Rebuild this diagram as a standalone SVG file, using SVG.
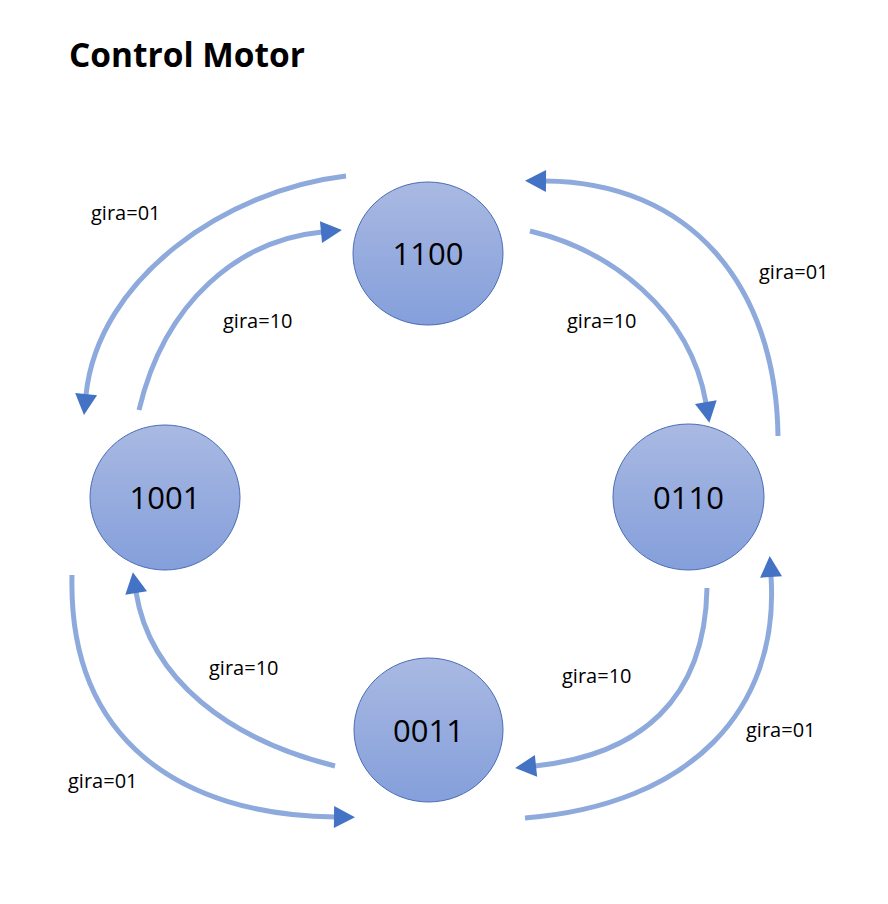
<svg xmlns="http://www.w3.org/2000/svg" width="888" height="904" viewBox="0 0 888 904">
<defs>
<linearGradient id="g" x1="0" y1="0" x2="0" y2="1">
<stop offset="0" stop-color="#a9b9e2"/>
<stop offset="1" stop-color="#849fdb"/>
</linearGradient>
<marker id="ah" markerUnits="userSpaceOnUse" markerWidth="24" markerHeight="24" viewBox="0 0 22 24" refX="1" refY="12" orient="auto">
<path d="M0,1 L21,12 L0,23 z" fill="#4472c4"/>
</marker>
<style>
.node ellipse{fill:url(#g);stroke:#4a6cb5;stroke-width:1}
.node text{font-family:"Open Sans","Liberation Sans",sans-serif;font-size:31px;fill:#000;text-anchor:middle}
.edge{fill:none;stroke:#8eaadc;stroke-width:5;marker-end:url(#ah)}
.lbl{font-family:"Open Sans","Liberation Sans",sans-serif;font-size:20px;fill:#000}
.title{font-family:"Open Sans","Liberation Sans",sans-serif;font-size:34px;font-weight:bold;fill:#000}
</style>
</defs>
<rect width="888" height="904" fill="#fff"/>
<text class="title" x="69" y="67" textLength="236" lengthAdjust="spacingAndGlyphs">Control Motor</text>
<g id="connectors">
<path class="edge" d="M346,176 C226,190 98,278 86,395"/>
<path class="edge" d="M139,410 C165,300 240,240 322,232"/>
<path class="edge" d="M530,231 C610,250 690,310 706,403"/>
<path class="edge" d="M778,436 C776,285 690,182 545,181"/>
<path class="edge" d="M707,588 C705,700 640,755 535,766"/>
<path class="edge" d="M525,818 C690,805 780,710 771,576"/>
<path class="edge" d="M335,766 C230,740 150,680 136,592"/>
<path class="edge" d="M72,575 C68,740 180,815 335,817"/>
</g>
<g id="labels">
<text class="lbl" x="91" y="220">gira=01</text>
<text class="lbl" x="223" y="328">gira=10</text>
<text class="lbl" x="567" y="328">gira=10</text>
<text class="lbl" x="759" y="279">gira=01</text>
<text class="lbl" x="209" y="675">gira=10</text>
<text class="lbl" x="68" y="788">gira=01</text>
<text class="lbl" x="562" y="683">gira=10</text>
<text class="lbl" x="746" y="737">gira=01</text>
</g>
<g id="n1100" class="node"><ellipse cx="428" cy="253.5" rx="75" ry="71.5"/><text x="428" y="265">1100</text></g>
<g id="n1001" class="node"><ellipse cx="165" cy="497.5" rx="75" ry="72.5"/><text x="165" y="509">1001</text></g>
<g id="n0110" class="node"><ellipse cx="688.5" cy="497" rx="75.5" ry="73"/><text x="688.5" y="508.5">0110</text></g>
<g id="n0011" class="node"><ellipse cx="428.5" cy="730" rx="74.5" ry="72"/><text x="428.5" y="741.5">0011</text></g>
</svg>
